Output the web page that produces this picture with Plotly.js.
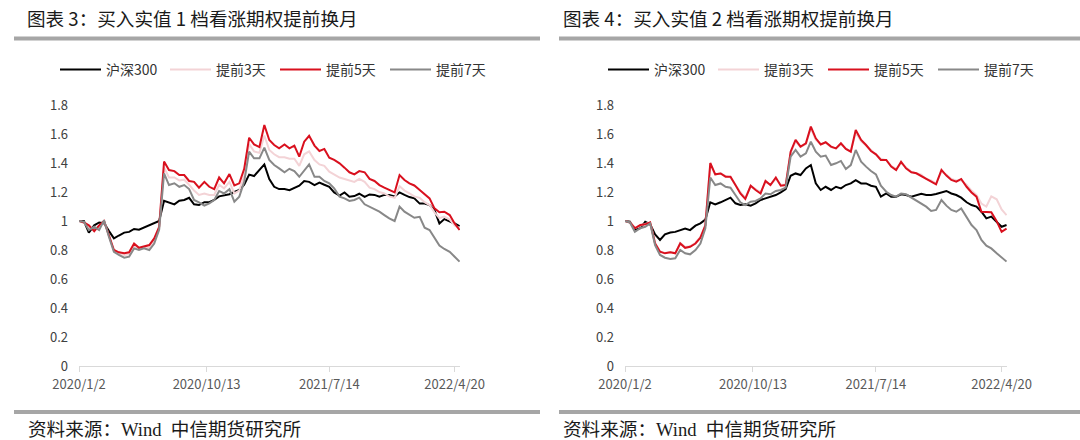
<!DOCTYPE html>
<html>
<head>
<meta charset="utf-8">
<script src="https://cdn.plot.ly/plotly-3.0.1.min.js"></script>
<style>
  html, body { margin: 0; padding: 0; background: #fff; }
  #chart { width: 1080px; height: 440px; }
</style>
</head>
<body>
<div id="chart"></div>
<script>
// ─── Data ───
const dates = [
  "2020-01-02","2020-01-13","2020-01-24","2020-02-05","2020-02-16","2020-02-27","2020-03-09","2020-03-20","2020-03-31","2020-04-12",
  "2020-04-23","2020-05-04","2020-05-15","2020-05-26","2020-06-07","2020-06-18","2020-06-29","2020-07-10","2020-07-21","2020-08-02",
  "2020-08-13","2020-08-24","2020-09-04","2020-09-15","2020-09-26","2020-10-08","2020-10-19","2020-10-30","2020-11-10","2020-11-21",
  "2020-12-03","2020-12-14","2020-12-25","2021-01-05","2021-01-16","2021-01-27","2021-02-08","2021-02-19","2021-03-02","2021-03-13",
  "2021-03-24","2021-04-05","2021-04-16","2021-04-27","2021-05-08","2021-05-19","2021-05-30","2021-06-11","2021-06-22","2021-07-03",
  "2021-07-14","2021-07-25","2021-08-06","2021-08-17","2021-08-28","2021-09-08","2021-09-19","2021-10-01","2021-10-12","2021-10-23",
  "2021-11-03","2021-11-14","2021-11-25","2021-12-07","2021-12-18","2021-12-29","2022-01-09","2022-01-20","2022-02-01","2022-02-12",
  "2022-02-23","2022-03-06","2022-03-17","2022-03-28","2022-04-09","2022-04-20","2022-05-01"
];
const seriesNames = ["沪深300", "提前3天", "提前5天", "提前7天"];
const tickDates = ["2020-01-02", "2020-10-13", "2021-07-14", "2022-04-20"];
const tickLabels = ["2020/1/2", "2020/10/13", "2021/7/14", "2022/4/20"];

// 图表 3：实值 1 档
const itm1Hs300 = [1.00,1.00,0.92,0.97,0.99,0.985,0.93,0.88,0.90,0.92,0.925,0.945,0.94,0.955,0.97,0.985,1.00,1.14,1.13,1.115,1.14,1.145,1.16,1.115,1.11,1.13,1.13,1.145,1.17,1.175,1.185,1.20,1.215,1.25,1.32,1.31,1.35,1.39,1.29,
  1.236,1.22,1.22,1.213,1.23,1.243,1.275,1.27,1.248,1.265,1.25,1.236,1.197,1.175,1.197,1.167,1.172,1.188,1.167,1.183,1.18,1.167,1.18,1.18,1.17,1.197,1.18,1.165,1.156,1.12,1.12,1.11,1.075,0.983,1.013,0.999,0.983,0.965];
const itm1Roll3 = [1.00,0.99,0.955,0.945,0.955,1.00,0.895,0.795,0.776,0.765,0.77,0.83,0.808,0.818,0.818,0.865,0.95,1.37,1.30,1.30,1.28,1.285,1.25,1.21,1.18,1.19,1.18,1.18,1.25,1.225,1.27,1.19,1.21,1.31,1.53,1.48,1.47,1.59,1.49,
  1.46,1.44,1.44,1.43,1.43,1.38,1.46,1.48,1.42,1.39,1.38,1.34,1.32,1.30,1.29,1.28,1.27,1.29,1.27,1.23,1.22,1.20,1.19,1.17,1.16,1.24,1.21,1.19,1.17,1.16,1.13,1.11,1.06,1.02,1.03,1.01,0.97,0.95];
const itm1Roll5 = [1.00,0.99,0.97,0.93,0.97,1.00,0.90,0.80,0.784,0.777,0.784,0.845,0.815,0.822,0.834,0.88,0.96,1.41,1.351,1.344,1.317,1.317,1.276,1.27,1.23,1.27,1.236,1.22,1.30,1.26,1.324,1.245,1.26,1.36,1.574,1.528,1.51,1.662,1.559,
  1.524,1.501,1.528,1.501,1.52,1.444,1.547,1.588,1.52,1.483,1.497,1.437,1.421,1.398,1.368,1.336,1.322,1.344,1.336,1.29,1.276,1.248,1.23,1.214,1.197,1.317,1.283,1.26,1.245,1.214,1.184,1.156,1.087,1.06,1.064,1.041,0.983,0.938];
const itm1Roll7 = [1.00,0.995,0.937,0.96,0.937,1.005,0.89,0.788,0.766,0.747,0.754,0.811,0.80,0.811,0.80,0.845,0.94,1.328,1.248,1.26,1.236,1.248,1.22,1.145,1.129,1.106,1.122,1.145,1.207,1.19,1.22,1.133,1.168,1.27,1.478,1.432,1.432,1.506,1.421,
  1.386,1.363,1.336,1.36,1.344,1.305,1.351,1.39,1.305,1.305,1.276,1.26,1.225,1.168,1.156,1.138,1.145,1.161,1.115,1.099,1.083,1.064,1.041,1.018,1.0,1.099,1.064,1.041,1.022,1.029,0.954,0.938,0.885,0.83,0.807,0.788,0.754,0.72];

// 图表 4：实值 2 档
const itm2Hs300 = [1.00,0.995,0.937,0.95,0.995,0.977,0.908,0.869,0.908,0.92,0.925,0.937,0.948,0.937,0.968,0.984,1.01,1.129,1.115,1.129,1.145,1.161,1.122,1.11,1.115,1.106,1.122,1.145,1.156,1.168,1.179,1.197,1.22,1.312,1.328,1.317,1.363,1.386,
  1.26,1.214,1.236,1.214,1.236,1.225,1.248,1.259,1.282,1.259,1.259,1.243,1.236,1.168,1.19,1.168,1.168,1.184,1.179,1.168,1.179,1.188,1.179,1.179,1.186,1.197,1.207,1.19,1.179,1.161,1.129,1.11,1.099,1.064,1.018,1.03,0.995,0.96,0.972];
const itm2Roll3 = [1.00,0.99,0.955,0.97,0.98,0.99,0.85,0.79,0.78,0.786,0.78,0.85,0.82,0.826,0.85,0.89,0.97,1.39,1.32,1.33,1.31,1.30,1.25,1.20,1.16,1.24,1.22,1.20,1.27,1.25,1.29,1.25,1.25,1.47,1.55,1.51,1.53,1.64,
  1.56,1.53,1.54,1.51,1.50,1.53,1.50,1.48,1.61,1.55,1.52,1.49,1.46,1.43,1.42,1.38,1.36,1.40,1.37,1.34,1.33,1.32,1.29,1.28,1.26,1.34,1.32,1.29,1.28,1.28,1.25,1.21,1.18,1.12,1.10,1.17,1.15,1.08,1.04];
const itm2Roll5 = [1.00,0.99,0.95,0.972,0.977,0.99,0.845,0.788,0.777,0.784,0.777,0.845,0.815,0.822,0.845,0.885,0.97,1.40,1.322,1.328,1.306,1.306,1.248,1.19,1.152,1.243,1.214,1.19,1.276,1.248,1.30,1.243,1.248,1.478,1.559,1.513,1.536,1.651,
  1.57,1.528,1.543,1.513,1.501,1.536,1.497,1.478,1.628,1.559,1.524,1.483,1.46,1.421,1.421,1.375,1.352,1.409,1.363,1.336,1.329,1.31,1.287,1.271,1.253,1.352,1.313,1.283,1.271,1.29,1.236,1.197,1.168,1.064,1.06,1.06,0.999,0.925,0.948];
const itm2Roll7 = [1.00,0.99,0.926,0.95,0.96,0.984,0.834,0.766,0.747,0.738,0.743,0.80,0.777,0.77,0.80,0.845,0.95,1.30,1.248,1.259,1.236,1.23,1.179,1.129,1.11,1.133,1.138,1.156,1.19,1.184,1.207,1.214,1.23,1.444,1.49,1.444,1.467,1.547,
  1.478,1.444,1.451,1.386,1.398,1.414,1.359,1.386,1.49,1.409,1.375,1.345,1.322,1.243,1.202,1.179,1.168,1.19,1.184,1.161,1.138,1.115,1.099,1.069,1.076,1.145,1.106,1.076,1.064,1.087,1.029,0.972,0.938,0.869,0.83,0.811,0.777,0.747,0.72];

// ─── Styling ───
const W = 1080, H = 440;
const px = (x) => x / W;
const py = (y) => 1 - y / H;
const colors = ["#000000", "#f3d3d6", "#d9101e", "#888888"];
const cjk = '"Noto Sans CJK SC", "Noto Sans", sans-serif';

function makeTraces(seriesList, xa, ya, legendId) {
  return seriesList.map((vals, i) => ({
    x: dates,
    y: vals,
    type: "scatter",
    mode: "lines",
    name: seriesNames[i],
    line: { color: colors[i], width: 2 },
    xaxis: xa,
    yaxis: ya,
    legend: legendId,
  }));
}

const traces = [
  ...makeTraces([itm1Hs300, itm1Roll3, itm1Roll5, itm1Roll7], "x", "y", "legend"),
  ...makeTraces([itm2Hs300, itm2Roll3, itm2Roll5, itm2Roll7], "x2", "y2", "legend2"),
];

function xAxis(domain, anchor) {
  return {
    domain: domain,
    anchor: anchor,
    type: "date",
    range: ["2020-01-02", "2022-05-02"],
    tickvals: tickDates,
    ticktext: tickLabels,
    showline: true,
    linecolor: "#d9d9d9",
    linewidth: 1,
    ticks: "outside",
    ticklen: 5,
    tickcolor: "#d9d9d9",
    showgrid: false,
    zeroline: false,
    tickfont: { family: cjk, size: 13, color: "#595959" },
    ticklabelstandoff: 1,
  };
}

function yAxis(anchor) {
  return {
    domain: [py(366), py(105)],
    anchor: anchor,
    range: [0, 1.8],
    tick0: 0,
    dtick: 0.2,
    showgrid: false,
    zeroline: false,
    showline: false,
    ticks: "",
    tickfont: { family: cjk, size: 13, color: "#404040" },
    ticklabelstandoff: 10,
  };
}

function legendAt(x) {
  return {
    orientation: "h",
    x: x,
    xanchor: "left",
    y: py(70),
    yanchor: "middle",
    font: { family: cjk, size: 14, color: "#333333" },
    itemwidth: 41,
    entrywidth: 54,
    entrywidthmode: "pixels",
    bgcolor: "rgba(0,0,0,0)",
    traceorder: "normal",
  };
}

const rule = (x0, x1, y) => ({
  type: "line", xref: "paper", yref: "paper",
  x0: px(x0), x1: px(x1), y0: py(y), y1: py(y),
  line: { color: "#a6a6a6", width: 4 },
});

const note = (text, x, y, size, family) => ({
  text: text, xref: "paper", yref: "paper",
  x: px(x), y: py(y), xanchor: "left", yanchor: "middle",
  showarrow: false,
  font: { family: family, size: size, color: "#1a1a1a" },
});

const footFont = '"Liberation Serif", "Noto Sans CJK SC", serif';

const layout = {
  width: W,
  height: H,
  margin: { l: 0, r: 0, t: 0, b: 0 },
  paper_bgcolor: "#ffffff",
  plot_bgcolor: "#ffffff",
  showlegend: true,
  xaxis: xAxis([px(79), px(460)], "y"),
  yaxis: yAxis("x"),
  xaxis2: xAxis([px(625), px(1007)], "y2"),
  yaxis2: yAxis("x2"),
  legend: legendAt(px(55)),
  legend2: legendAt(px(603)),
  shapes: [
    rule(14, 540, 38.5),
    rule(559, 1080, 38.5),
    rule(14, 540, 412),
    rule(559, 1080, 412),
  ],
  annotations: [
    note("图表&nbsp;3：买入实值 1 档看涨期权提前换月", 25, 18, 18.6, cjk),
    note("图表&nbsp;4：买入实值 2 档看涨期权提前换月", 561, 18, 18.6, cjk),
    note("资料来源：Wind&nbsp;&nbsp;中信期货研究所", 26, 429, 18.6, footFont),
    note("资料来源：Wind&nbsp;&nbsp;中信期货研究所", 561, 429, 18.6, footFont),
  ],
};

Plotly.newPlot("chart", traces, layout, { staticPlot: true, displayModeBar: false });
</script>
</body>
</html>
